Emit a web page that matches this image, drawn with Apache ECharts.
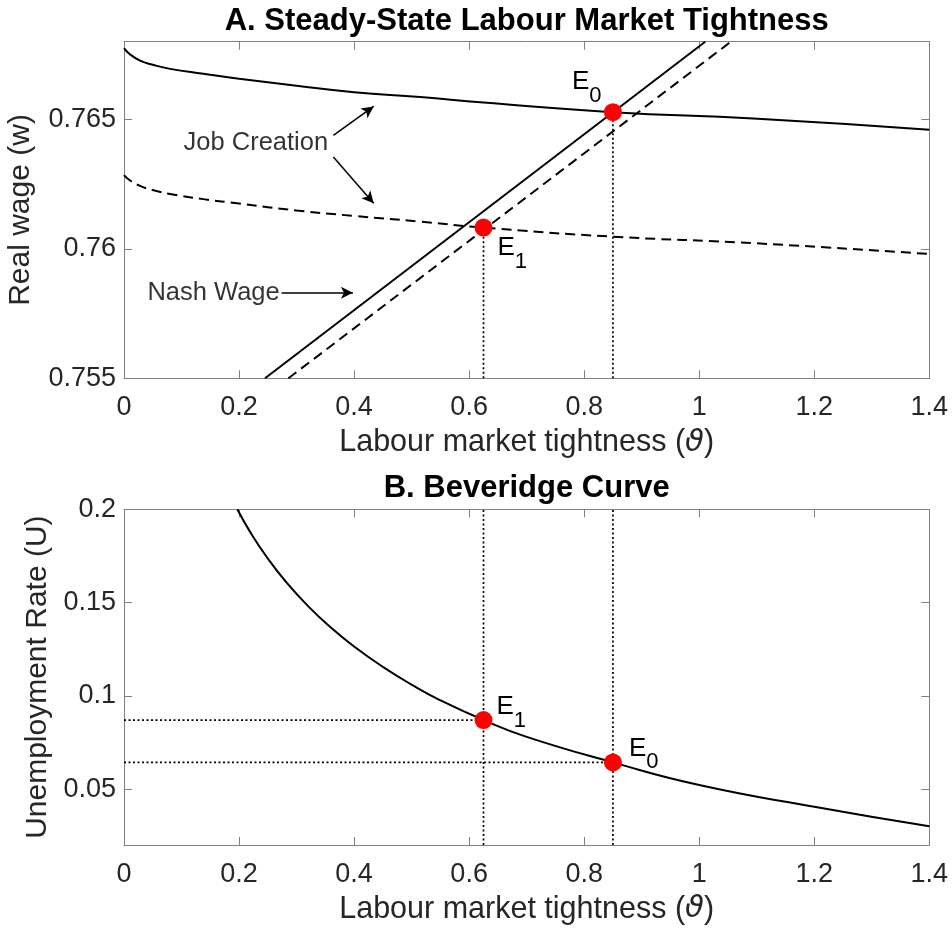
<!DOCTYPE html>
<html><head><meta charset="utf-8">
<script src="https://cdn.jsdelivr.net/npm/echarts@6/dist/echarts.min.js"></script>
<style>html,body{margin:0;padding:0;background:#fff}#c{width:952px;height:928px}</style>
</head><body><div id="c"></div>
<script>
// ---- data ----
const xTicks = [0, 0.2, 0.4, 0.6, 0.8, 1, 1.2, 1.4];
const wageTicks = [0.755, 0.76, 0.765];
const uTicks = [0.05, 0.1, 0.15, 0.2];

const jcTheta = [0, 0.01, 0.028, 0.05, 0.08, 0.138, 0.2, 0.3, 0.4, 0.515, 0.625, 0.85, 1.094, 1.4];
const jcWage0 = [0.76775, 0.76752, 0.76727, 0.76711, 0.76695, 0.76676, 0.76657, 0.7663, 0.76605, 0.76586, 0.76565, 0.76528, 0.76503, 0.7646];
const jcWage1 = [0.76285, 0.76265, 0.76243, 0.76227, 0.76212, 0.76192, 0.76175, 0.76148, 0.76127, 0.76105, 0.76082, 0.76047, 0.76022, 0.7598];

const nashTheta0 = [0.2452, 1.0104];
const nashTheta1 = [0.2858, 1.055];
const nashWage = [0.755, 0.768];

const bevTheta = [0.197, 0.22, 0.25, 0.28, 0.32, 0.36, 0.4, 0.45, 0.5, 0.55, 0.625, 0.7, 0.85, 1.0, 1.2, 1.4];
const bevU = [0.2, 0.1875, 0.1736, 0.1617, 0.1481, 0.1365, 0.1264, 0.1155, 0.106, 0.0976, 0.087, 0.078, 0.0643, 0.0522, 0.0405, 0.03];

const eqNames = ['0', '1'];
const eqTheta = [0.85, 0.625];
const eqWage = [0.76528, 0.76082];
const eqU = [0.0643, 0.087];

const xRange = [0, 1.4];
const wRange = [0.755, 0.768];
const uRange = [0.02, 0.2];

// annotation anchors (data coords)
const jcText = [0.2292, 0.76408];
const nashText = [0.1557, 0.7583];
const arrows = [
  [[0.364, 0.76438], [0.434, 0.7655]],
  [[0.364, 0.76355], [0.434, 0.76176]],
  [[0.274, 0.7583], [0.398, 0.7583]]
];

// ---- styling ----
const FONT = '"Liberation Sans", Arial, Helvetica, sans-serif';
const TXT = '#262626';
const FRAME = '#808080';

function xAx(gi, pos, showLabel, name) {
  return {
    type: 'value', gridIndex: gi, position: pos, min: xRange[0], max: xRange[1],
    axisLine: {show: true, onZero: false, lineStyle: {color: FRAME, width: 1}},
    axisTick: {show: true, inside: true, length: 8, lineStyle: {color: FRAME}, customValues: xTicks},
    axisLabel: {show: showLabel, customValues: xTicks, color: TXT, fontSize: 27, fontFamily: FONT, margin: 16, formatter: v => String(v)},
    splitLine: {show: false},
    name: name || '', nameLocation: 'middle', nameGap: 49,
    nameTextStyle: {color: TXT, fontSize: 30.5, fontFamily: FONT,
      rich: {i: {color: TXT, fontSize: 30.5, fontStyle: 'italic', fontFamily: '"DejaVu Sans", sans-serif'}}}
  };
}
function yAx(gi, pos, range, ticks, showLabel, name, gap) {
  return {
    type: 'value', gridIndex: gi, position: pos, min: range[0], max: range[1],
    axisLine: {show: true, onZero: false, lineStyle: {color: FRAME, width: 1}},
    axisTick: {show: true, inside: true, length: 8, lineStyle: {color: FRAME}, customValues: ticks},
    axisLabel: {show: showLabel, customValues: ticks, color: TXT, fontSize: 27, fontFamily: FONT, margin: 8, formatter: v => String(v)},
    splitLine: {show: false},
    name: name || '', nameLocation: 'middle', nameGap: gap || 0,
    nameTextStyle: {color: TXT, fontSize: 30, fontFamily: FONT}
  };
}
const pairs = (xs, ys) => xs.map((x, i) => [x, ys[i]]);
const blackLine = (type) => ({color: '#000', width: 2, type: type});

function lineSeries(xi, yi, data, type, smooth) {
  return {type: 'line', xAxisIndex: xi, yAxisIndex: yi, data: data, symbol: 'none', showSymbol: false,
    smooth: smooth ? 0.5 : false, lineStyle: blackLine(type), silent: true, z: 3, animation: false};
}
function dotted(xi, yi, data) {
  return {type: 'line', xAxisIndex: xi, yAxisIndex: yi, data: data, symbol: 'none', showSymbol: false,
    lineStyle: {color: '#000', width: 1.7, type: [2, 2.5]}, silent: true, z: 2, animation: false};
}
const labelRich = {
  e: {fontSize: 26, lineHeight: 28, verticalAlign: 'top', color: '#000', fontFamily: FONT},
  s: {fontSize: 22, lineHeight: 38, verticalAlign: 'bottom', color: '#000', fontFamily: FONT}
};
function eqLabel(i, offset) {
  return {show: true, position: offset, align: 'left', verticalAlign: 'top',
    formatter: '{e|E}{s|' + eqNames[i] + '}', rich: labelRich};
}

const topOffsets = [[-32, -34], [23, 16]];
const botOffsets = [[25, -18], [22, -17]];

const series = [];
// Panel A
series.push(lineSeries(0, 0, pairs(jcTheta, jcWage0), 'solid', true));
series.push(lineSeries(0, 0, pairs(jcTheta, jcWage1), [10, 6], true));
series.push(lineSeries(0, 0, pairs(nashTheta0, nashWage), 'solid', false));
series.push(lineSeries(0, 0, pairs(nashTheta1, nashWage), [10, 6], false));
eqTheta.forEach((t, i) => series.push(dotted(0, 0, [[t, wRange[0]], [t, eqWage[i]]])));
series.push({
  type: 'scatter', xAxisIndex: 0, yAxisIndex: 0, symbolSize: 18, itemStyle: {color: '#ff0000', opacity: 1}, z: 10, animation: false,
  data: eqTheta.map((t, i) => ({value: [t, eqWage[i]], label: eqLabel(i, topOffsets[i])}))
});
series.push({
  type: 'scatter', xAxisIndex: 0, yAxisIndex: 0, symbolSize: 1, itemStyle: {color: 'rgba(0,0,0,0)'}, z: 5, animation: false, silent: true,
  data: [{value: jcText, name: 'Job Creation'}, {value: nashText, name: 'Nash Wage'}],
  label: {show: true, position: 'inside', formatter: '{b}', color: '#000', fontSize: 25.5, fontFamily: FONT, align: 'center', verticalAlign: 'middle'},
  markLine: {silent: true, animation: false, symbol: ['none', 'arrow'], symbolSize: [9, 12],
    lineStyle: {color: '#000', width: 1.5, type: 'solid'}, label: {show: false},
    data: arrows.map(a => [{coord: a[0]}, {coord: a[1]}])}
});
// Panel B
series.push(lineSeries(2, 2, pairs(bevTheta, bevU), 'solid', true));
eqTheta.forEach((t) => series.push(dotted(2, 2, [[t, uRange[0]], [t, uRange[1]]])));
eqTheta.forEach((t, i) => series.push(dotted(2, 2, [[xRange[0], eqU[i]], [t, eqU[i]]])));
series.push({
  type: 'scatter', xAxisIndex: 2, yAxisIndex: 2, symbolSize: 18, itemStyle: {color: '#ff0000', opacity: 1}, z: 10, animation: false,
  data: eqTheta.map((t, i) => ({value: [t, eqU[i]], label: eqLabel(i, botOffsets[i])}))
});

const option = {
  animation: false,
  backgroundColor: '#fff',
  grid: [
    {left: 124, top: 41.7, width: 805.3, height: 336.6, containLabel: false, outerBoundsMode: 'none', show: false},
    {left: 124, top: 509.3, width: 805.3, height: 335.7, containLabel: false, outerBoundsMode: 'none', show: false}
  ],
  xAxis: [
    xAx(0, 'bottom', true, 'Labour market tightness ({i|ϑ})'),
    xAx(0, 'top', false),
    xAx(1, 'bottom', true, 'Labour market tightness ({i|ϑ})'),
    xAx(1, 'top', false)
  ],
  yAxis: [
    yAx(0, 'left', wRange, wageTicks, true, 'Real wage (w)', 88),
    yAx(0, 'right', wRange, wageTicks, false),
    yAx(1, 'left', uRange, uTicks, true, 'Unemployment Rate (U)', 67),
    yAx(1, 'right', uRange, uTicks, false)
  ],
  graphic: [
    {type: 'text', x: 526.7, y: 21, style: {text: 'A. Steady-State Labour Market Tightness', align: 'center', verticalAlign: 'middle',
      fill: '#000', font: 'bold 31px ' + FONT}},
    {type: 'text', x: 526.7, y: 488.5, style: {text: 'B. Beveridge Curve', align: 'center', verticalAlign: 'middle',
      fill: '#000', font: 'bold 31px ' + FONT}}
  ],
  series: series
};
const chart = echarts.init(document.getElementById('c'), null, {renderer: 'canvas'});
chart.setOption(option);
</script>
</body></html>
